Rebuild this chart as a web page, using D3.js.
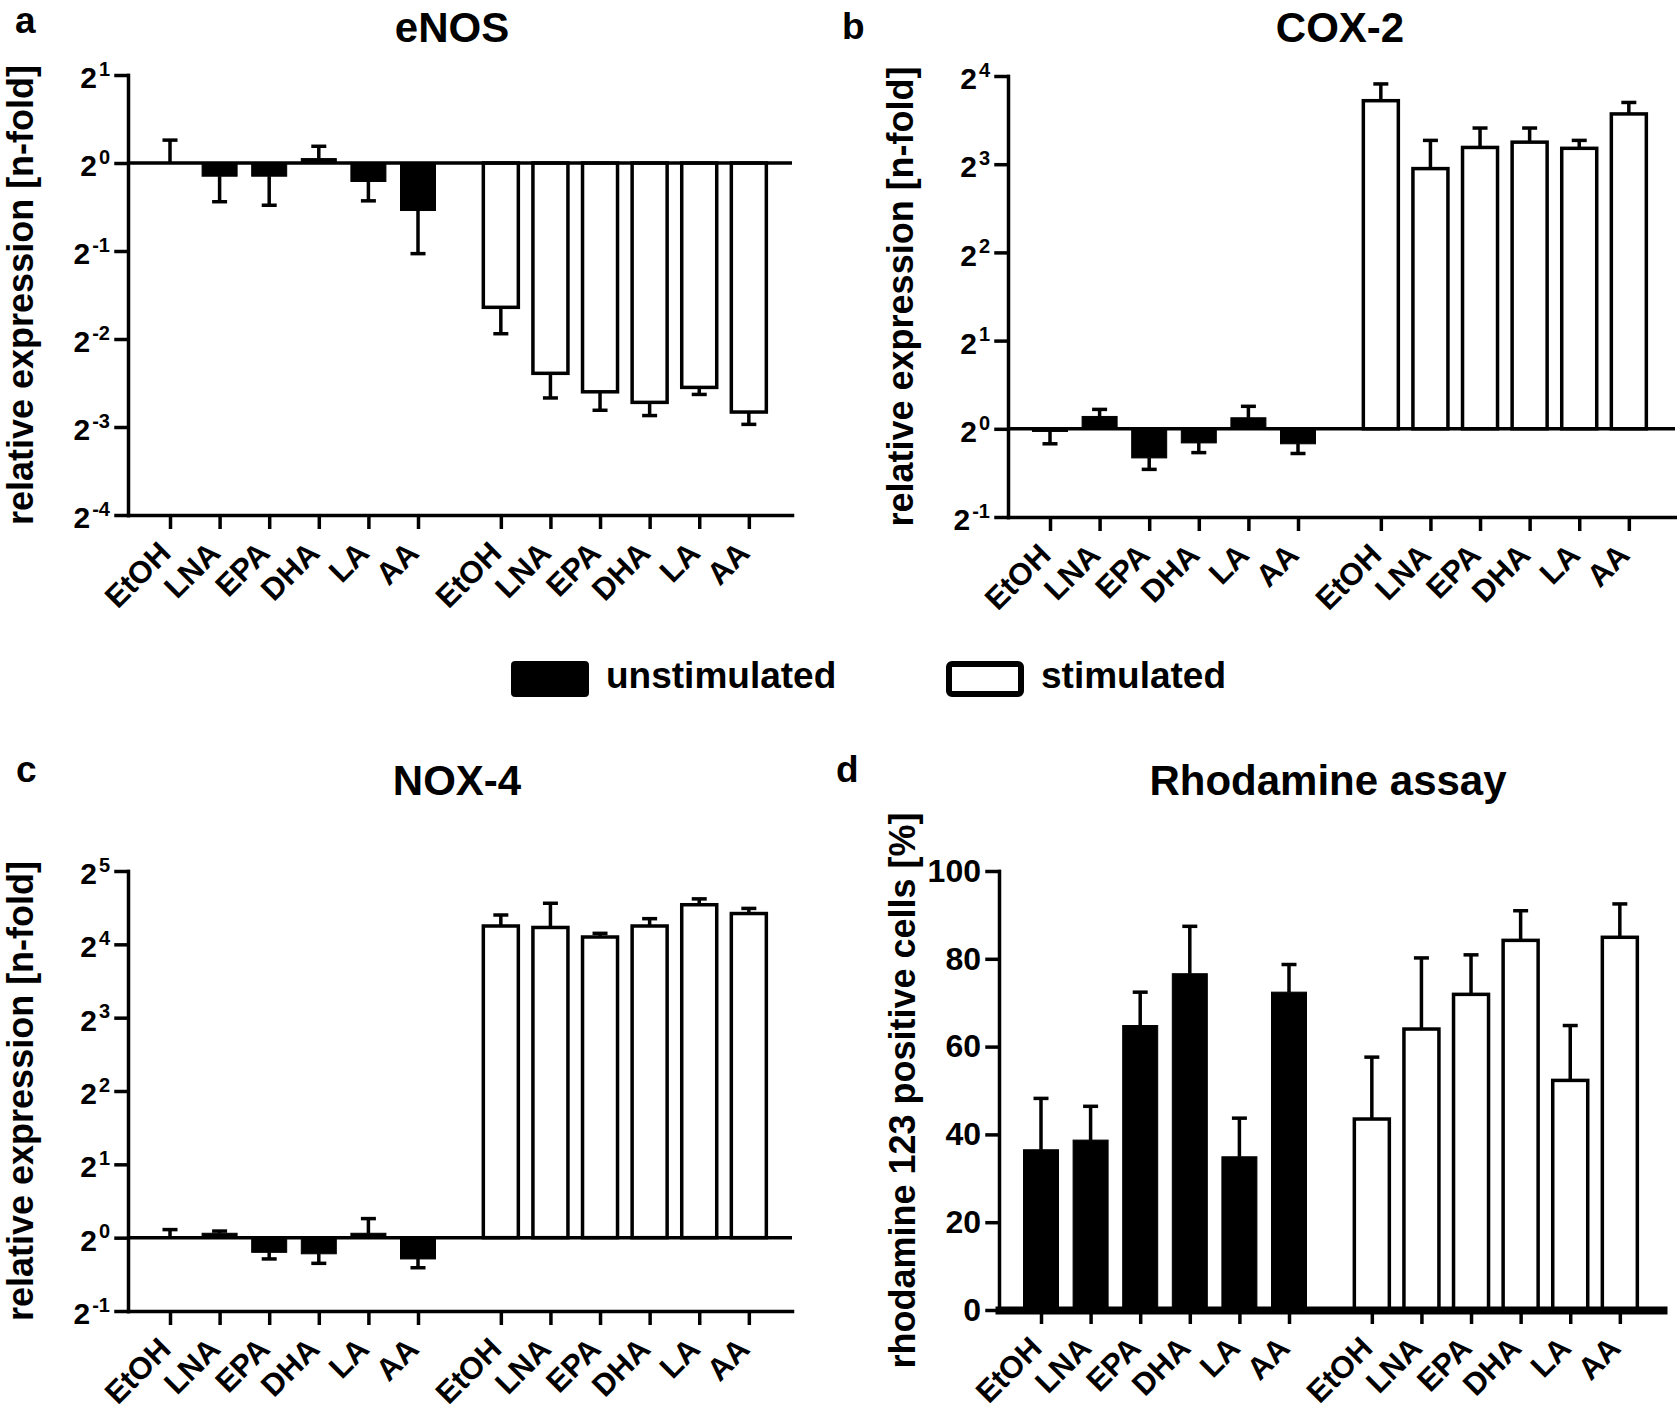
<!DOCTYPE html>
<html>
<head>
<meta charset="utf-8">
<script src="https://cdn.jsdelivr.net/npm/d3@7"></script>
<style>
  body { margin: 0; background: #fff; }
  svg { font-family: "Liberation Sans", Arial, sans-serif; font-weight: bold; }
</style>
</head>
<body>
<div id="wrapper"></div>
<script>
// categories, shared by all four panels
const categories = ["EtOH", "LNA", "EPA", "DHA", "LA", "AA"]
const groups = ["unstimulated", "stimulated"]

// eNOS, log2 of relative expression (bar) and SEM (log2 units)
const enosUnstim = [0.0, -0.15, -0.15, 0.05, -0.21, -0.54]
const enosUnstimErr = [0.26, 0.29, 0.33, 0.14, 0.22, 0.49]
const enosStim = [-1.64, -2.39, -2.60, -2.72, -2.55, -2.83]
const enosStimErr = [0.30, 0.28, 0.21, 0.15, 0.08, 0.14]

// COX-2
const coxUnstim = [-0.03, 0.14, -0.33, -0.16, 0.125, -0.17]
const coxUnstimErr = [0.14, 0.08, 0.13, 0.11, 0.13, 0.11]
const coxStim = [3.72, 2.95, 3.19, 3.25, 3.18, 3.57]
const coxStimErr = [0.19, 0.32, 0.22, 0.16, 0.09, 0.13]

// NOX-4
const noxUnstim = [0.0, 0.06, -0.20, -0.22, 0.06, -0.29]
const noxUnstimErr = [0.11, 0.03, 0.09, 0.13, 0.20, 0.12]
const noxStim = [4.25, 4.23, 4.10, 4.25, 4.54, 4.42]
const noxStimErr = [0.15, 0.33, 0.05, 0.10, 0.08, 0.07]

// Rhodamine assay, % positive cells
const rhoUnstim = [36.5, 38.7, 64.8, 76.6, 34.9, 72.4]
const rhoUnstimErr = [11.7, 7.7, 7.6, 10.8, 8.8, 6.3]
const rhoStim = [43.5, 64.0, 71.9, 84.2, 52.3, 84.9]
const rhoStimErr = [14.1, 16.2, 9.0, 6.75, 12.5, 7.6]

// tick values
const enosTicks = [1, 0, -1, -2, -3, -4]
const coxTicks = [4, 3, 2, 1, 0, -1]
const noxTicks = [5, 4, 3, 2, 1, 0, -1]
const rhoTicks = [0, 20, 40, 60, 80, 100]

const log2Label = "relative expression [n-fold]"
const rhoLabel = "rhodamine 123 positive cells [%]"

const width = 1677
const height = 1415
const slot = 49.6          // distance between neighbouring bars
const groupGap = 0.67      // extra slots between the two groups
const firstOffset = 42     // y axis -> first bar
const barWidth = 35
const lw = 3.5

const panels = [
  { letter: "a", lx: 15, ly: 33, title: "eNOS", tx: 452, ty: 42,
    axisX: 128, xEnd: 792, top: 75, bottom: 515, domain: [-4, 1], ticks: enosTicks, log: true,
    unstim: enosUnstim, unstimErr: enosUnstimErr, stim: enosStim, stimErr: enosStimErr,
    yLabel: log2Label, yLabelX: 23 },
  { letter: "b", lx: 842, ly: 39, title: "COX-2", tx: 1340, ty: 42,
    axisX: 1008, xEnd: 1675, top: 76, bottom: 517, domain: [-1, 4], ticks: coxTicks, log: true,
    unstim: coxUnstim, unstimErr: coxUnstimErr, stim: coxStim, stimErr: coxStimErr,
    yLabel: log2Label, yLabelX: 903 },
  { letter: "c", lx: 16, ly: 782, title: "NOX-4", tx: 457, ty: 795,
    axisX: 128, xEnd: 792, top: 871, bottom: 1311, domain: [-1, 5], ticks: noxTicks, log: true,
    unstim: noxUnstim, unstimErr: noxUnstimErr, stim: noxStim, stimErr: noxStimErr,
    yLabel: log2Label, yLabelX: 23 },
  { letter: "d", lx: 836, ly: 782, title: "Rhodamine assay", tx: 1328, ty: 795,
    axisX: 999, xEnd: 1663, top: 871, bottom: 1310, domain: [0, 100], ticks: rhoTicks, log: false,
    unstim: rhoUnstim, unstimErr: rhoUnstimErr, stim: rhoStim, stimErr: rhoStimErr,
    yLabel: rhoLabel, yLabelX: 905 },
]

const svg = d3.select("#wrapper")
  .append("svg")
  .attr("width", width)
  .attr("height", height)

panels.forEach(p => drawPanel(p))
drawLegend()

function drawPanel(p) {
  const g = svg.append("g")

  // bar rows: group 0 = unstimulated (black), group 1 = stimulated (white)
  const rows = []
  categories.forEach((c, i) => {
    rows.push({ cat: c, group: 0, slot: i, value: p.unstim[i], err: p.unstimErr[i] })
  })
  categories.forEach((c, i) => {
    rows.push({ cat: c, group: 1, slot: i + categories.length + groupGap,
      value: p.stim[i], err: p.stimErr[i] })
  })

  const xScale = d3.scaleLinear()
    .domain([-firstOffset / slot, (p.xEnd - p.axisX - firstOffset) / slot])
    .range([p.axisX, p.xEnd])

  const yScale = d3.scaleLinear()
    .domain(p.domain)
    .range([p.bottom, p.top])

  const base = 0
  const y0 = yScale(base)

  // bars
  g.selectAll("rect.bar")
    .data(rows)
    .join("rect")
      .attr("class", "bar")
      .attr("x", d => xScale(d.slot) - barWidth / 2)
      .attr("width", barWidth)
      .attr("y", d => Math.min(yScale(d.value), y0))
      .attr("height", d => Math.abs(yScale(d.value) - y0))
      .attr("fill", d => d.group === 0 ? "#000" : "#fff")
      .attr("stroke", "#000")
      .attr("stroke-width", d => d.group === 0 ? 1 : lw)

  // error bars, drawn away from the baseline
  const errs = g.selectAll("g.err")
    .data(rows)
    .join("g")
      .attr("class", "err")
      .attr("stroke", "#000")
      .attr("stroke-width", lw)
  const dir = d => (d.value >= base ? 1 : -1)
  errs.append("line")
    .attr("x1", d => xScale(d.slot))
    .attr("x2", d => xScale(d.slot))
    .attr("y1", d => yScale(d.value))
    .attr("y2", d => yScale(d.value + dir(d) * d.err))
  errs.append("line")
    .attr("x1", d => xScale(d.slot) - 7.5)
    .attr("x2", d => xScale(d.slot) + 7.5)
    .attr("y1", d => yScale(d.value + dir(d) * d.err))
    .attr("y2", d => yScale(d.value + dir(d) * d.err))

  // horizontal line at 2^0 for log panels
  if (p.log) {
    g.append("line")
      .attr("x1", p.axisX)
      .attr("x2", p.xEnd)
      .attr("y1", y0)
      .attr("y2", y0)
      .attr("stroke", "#000")
      .attr("stroke-width", lw)
  }

  // y axis
  const yAxisGenerator = d3.axisLeft(yScale)
    .tickValues(p.ticks)
    .tickSize(12)
    .tickSizeOuter(0)
    .tickPadding(6)
    .tickFormat(d => p.log ? "" : d)

  const yAxis = g.append("g")
    .attr("transform", `translate(${p.axisX},0)`)
    .call(yAxisGenerator)
  yAxis.selectAll("path, line")
    .attr("stroke-width", lw)
    .attr("stroke-linecap", "square")
  yAxis.selectAll("text")
    .attr("font-size", p.log ? 30 : 32)
    .attr("font-family", "Liberation Sans, Arial, sans-serif")
    .attr("font-weight", "bold")
    .attr("fill", "#000")
  if (p.log) {
    yAxis.selectAll(".tick text").each(function(d) {
      const t = d3.select(this)
      t.text("2")
        .attr("dy", "0.42em")
      t.append("tspan")
        .attr("dx", 2)
        .attr("dy", "-0.62em")
        .attr("font-size", 20)
        .text(d)
    })
  }

  // x axis at the bottom of the plot
  const xAxisGenerator = d3.axisBottom(xScale)
    .tickValues(rows.map(d => d.slot))
    .tickSize(14)
    .tickSizeOuter(0)
    .tickFormat("")

  const xAxis = g.append("g")
    .attr("transform", `translate(0,${p.bottom})`)
    .call(xAxisGenerator)
  xAxis.selectAll("line")
    .attr("stroke-width", lw)
  xAxis.select("path.domain")
    .attr("stroke-width", p.log ? lw : 8)
    .attr("stroke-linecap", "square")

  xAxis.selectAll(".tick")
    .data(rows)
    .append("text")
      .attr("transform", "translate(2,40) rotate(-45)")
      .attr("text-anchor", "end")
      .attr("fill", "#000")
      .attr("font-size", 31)
      .text(d => d.cat)

  // y axis title
  const midY = (p.top + p.bottom) / 2
  g.append("text")
    .attr("transform", `translate(${p.yLabelX + 10},${midY}) rotate(-90)`)
    .attr("text-anchor", "middle")
    .attr("font-size", 36)
    .text(p.yLabel)

  // title and panel letter
  g.append("text")
    .attr("x", p.tx)
    .attr("y", p.ty)
    .attr("text-anchor", "middle")
    .attr("font-size", 42)
    .text(p.title)

  g.append("text")
    .attr("x", p.lx)
    .attr("y", p.ly)
    .attr("font-size", 37)
    .text(p.letter)
}

function drawLegend() {
  const legend = svg.append("g")
  const items = [
    { name: groups[0], x: 511, fill: "#000", sw: 1 },
    { name: groups[1], x: 946, fill: "#fff", sw: 6 },
  ]
  const item = legend.selectAll("g")
    .data(items)
    .join("g")
      .attr("transform", d => `translate(${d.x},661)`)
  item.append("rect")
    .attr("x", d => d.sw / 2)
    .attr("y", d => d.sw / 2)
    .attr("width", d => 78 - d.sw)
    .attr("height", d => 36 - d.sw)
    .attr("rx", 3)
    .attr("fill", d => d.fill)
    .attr("stroke", "#000")
    .attr("stroke-width", d => d.sw)
  item.append("text")
    .attr("x", 95)
    .attr("y", 27)
    .attr("font-size", 37)
    .text(d => d.name)
}
</script>
</body>
</html>
